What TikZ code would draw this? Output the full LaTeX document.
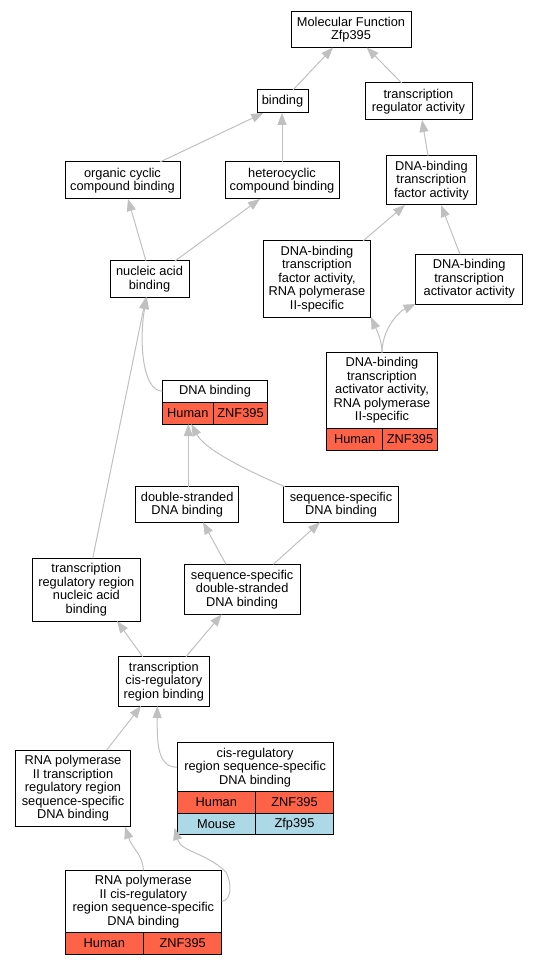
\documentclass[tikz,border=0pt]{standalone}
\usepackage{fontspec}
\setmainfont{Liberation Sans}
\usetikzlibrary{arrows.meta}
\definecolor{edgegray}{HTML}{C0C0C0}
\definecolor{humanred}{HTML}{FF6347}
\definecolor{mouseblue}{HTML}{ADD8E6}
\begin{document}
\begin{tikzpicture}[x=1pt,y=-1pt,
  box/.style={draw=black, line width=1pt, fill=white, inner sep=0pt, outer sep=0pt,
    align=center, anchor=north west, font=\fontsize{12.8}{13.5}\selectfont},
  hcell/.style={box, fill=humanred},
  mcell/.style={box, fill=mouseblue},
  edge/.style={draw=edgegray, line width=1pt, -{Triangle[length=12pt,width=9pt]}}]
\useasboundingbox (0,0) rectangle (539,965);

% nodes
\node[box, minimum width=120pt, minimum height=35.5pt] (mf) at (291,12) {Molecular Function\\Zfp395};
\node[box, minimum width=51pt, minimum height=23pt] (bind) at (257,90) {binding};
\node[box, minimum width=107pt, minimum height=37pt] (tra) at (365,83) {transcription\\regulator activity};
\node[box, minimum width=115pt, minimum height=37pt] (occb) at (65,162) {organic cyclic\\compound binding};
\node[box, minimum width=114pt, minimum height=37pt] (hcb) at (225,162) {heterocyclic\\compound binding};
\node[box, minimum width=79pt, minimum height=36pt] (nab) at (110,261) {nucleic acid\\binding};
\node[box, minimum width=89.3pt, minimum height=49.3pt] (dbtfa) at (386.7,155.7) {DNA-binding\\transcription\\factor activity};
\node[box, minimum width=107.4pt, minimum height=76pt] (dbtfarna) at (263.3,241) {DNA-binding\\transcription\\factor activity,\\RNA polymerase\\II-specific};
\node[box, minimum width=107pt, minimum height=49.7pt] (dbtaa) at (415.7,254.3) {DNA-binding\\transcription\\activator activity};
\node[box, minimum width=110.6pt, minimum height=75.6pt] (dbtaarna) at (326.7,352.7) {DNA-binding\\transcription\\activator activity,\\RNA polymerase\\II-specific};
\node[hcell, minimum width=56pt, minimum height=22.4pt] (dbtaarnah) at (326.7,428.3) {Human};
\node[hcell, minimum width=54.6pt, minimum height=22.4pt] (dbtaarnag) at (382.7,428.3) {ZNF395};
\node[box, minimum width=105.4pt, minimum height=22.3pt] (dnab) at (162.3,380) {DNA binding};
\node[hcell, minimum width=51pt, minimum height=21.7pt] (dnabh) at (162.3,402.3) {Human};
\node[hcell, minimum width=54.4pt, minimum height=21.7pt] (dnabg) at (213.3,402.3) {ZNF395};
\node[box, minimum width=103pt, minimum height=35.6pt] (dsdb) at (135.7,486.7) {double-stranded\\DNA binding};
\node[box, minimum width=115.4pt, minimum height=35.6pt] (ssdb) at (283.3,486.7) {sequence-specific\\DNA binding};
\node[box, minimum width=107.3pt, minimum height=62.7pt] (trrnab) at (32.7,558.3) {transcription\\regulatory region\\nucleic acid\\binding};
\node[box, minimum width=115.7pt, minimum height=50pt] (ssdsdb) at (184.3,564.3) {sequence-specific\\double-stranded\\DNA binding};
\node[box, minimum width=91pt, minimum height=49.3pt] (tcrrb) at (118.3,656.7) {transcription\\cis-regulatory\\region binding};
\node[box, minimum width=114.6pt, minimum height=76.7pt] (rnaptrr) at (15.7,750) {RNA polymerase\\II transcription\\regulatory region\\sequence-specific\\DNA binding};
\node[box, minimum width=156.3pt, minimum height=49pt] (crssdb) at (177,742.7) {cis-regulatory\\region sequence-specific\\DNA binding};
\node[hcell, minimum width=78.7pt, minimum height=21.6pt] (crssdbh) at (177,791.7) {Human};
\node[hcell, minimum width=77.6pt, minimum height=21.6pt] (crssdbg) at (255.7,791.7) {ZNF395};
\node[mcell, minimum width=78.7pt, minimum height=21pt] (crssdbm) at (177,813.3) {Mouse};
\node[mcell, minimum width=77.6pt, minimum height=21pt] (crssdbz) at (255.7,813.3) {Zfp395};
\node[box, minimum width=156.7pt, minimum height=62.4pt] (rnapcr) at (65,870.3) {RNA polymerase\\II cis-regulatory\\region sequence-specific\\DNA binding};
\node[hcell, minimum width=78.7pt, minimum height=21.6pt] (rnapcrh) at (65,932.7) {Human};
\node[hcell, minimum width=78pt, minimum height=21.6pt] (rnapcrg) at (143.7,932.7) {ZNF395};

% edges
\draw[edge] ([xshift=36pt]bind.north west) -- ([xshift=42pt]mf.south west);
\draw[edge] ([xshift=36.7pt]tra.north west) -- ([xshift=75.7pt]mf.south west);
\draw[edge] ([xshift=95pt]occb.north west) -- ([xshift=6.3pt]bind.south west);
\draw[edge] (hcb.north) -- (hcb.north |- bind.south);
\draw[edge] ([xshift=36pt]nab.north west) -- ([xshift=63pt]occb.south west);
\draw[edge] ([xshift=65pt]nab.north west) -- ([xshift=35pt]hcb.south west);
\draw[edge] ([xshift=41.3pt]dbtfa.north west) -- ([xshift=57pt]tra.south west);
\draw[edge] ([xshift=99.7pt]dbtfarna.north west) -- ([xshift=18.3pt]dbtfa.south west);
\draw[edge] ([xshift=44.3pt]dbtaa.north west) -- ([xshift=54.3pt]dbtfa.south west);
\draw[edge] ([xshift=55.3pt]dbtaarna.north west) .. controls (382,342) and (378,333) .. ([xshift=107.7pt]dbtfarna.south west);
\draw[edge] ([xshift=55.3pt]dbtaarna.north west) .. controls (382,330) and (398,312) .. (dbtaa.south west);
\draw[edge] (dnab.west) .. controls (142,391) and (139,340) .. ([xshift=36.7pt]nab.south west);
\draw[edge] ([xshift=60pt]trrnab.north west) -- ([xshift=36pt]nab.south west);
\draw[edge] ([xshift=52.6pt]dsdb.north west) -- ([xshift=26pt]dnabh.south west);
\draw[edge] ([xshift=1.7pt]ssdb.north west) .. controls (250,472) and (205,450) .. ([xshift=29pt]dnabh.south west);
\draw[edge] ([xshift=41.7pt]ssdsdb.north west) -- ([xshift=67.3pt]dsdb.south west);
\draw[edge] ([xshift=89pt]ssdsdb.north west) -- ([xshift=36.7pt]ssdb.south west);
\draw[edge] ([xshift=24.4pt]tcrrb.north west) -- ([xshift=84.3pt]trrnab.south west);
\draw[edge] ([xshift=67.7pt]tcrrb.north west) -- ([xshift=37.4pt]ssdsdb.south west);
\draw[edge] ([xshift=91pt]rnaptrr.north west) -- ([xshift=22.7pt]tcrrb.south west);
\draw[edge] (crssdb.west) .. controls (158,767) and (157,745) .. ([xshift=39pt]tcrrb.south west);
\draw[edge] (rnapcr.north) .. controls (143,855) and (132,848) .. ([xshift=109.3pt]rnaptrr.south west);
\draw[edge] (rnapcr.east) .. controls (232,900) and (232,884) .. (226,872) .. controls (205,852) and (181,852) .. ([xshift=-2.5pt,yshift=6.3pt]crssdbm.south west);
\end{tikzpicture}
\end{document}
